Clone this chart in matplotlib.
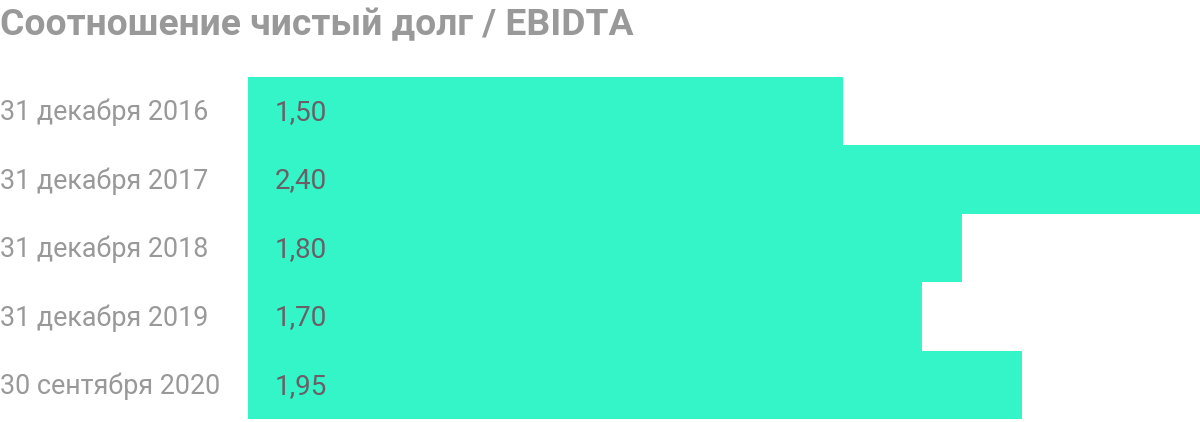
import matplotlib
matplotlib.use("Agg")
import matplotlib.pyplot as plt

categories = ["31 декабря 2016", "31 декабря 2017", "31 декабря 2018",
              "31 декабря 2019", "30 сентября 2020"]
values = [1.50, 2.40, 1.80, 1.70, 1.95]
value_labels = ["1,50", "2,40", "1,80", "1,70", "1,95"]
title = "Соотношение чистый долг / EBIDTA"

plt.rcParams['font.family'] = ['Roboto', 'DejaVu Sans']

W, H = 1200, 422
fig = plt.figure(figsize=(W / 100, H / 100), dpi=100)
ax = fig.add_axes([248 / W, 3 / H, 1 - 248 / W, (419 - 77) / H])

n = len(values)
ypos = list(range(n))
ax.barh(ypos, values, height=1.0, color="#33f5c8", linewidth=0)
ax.set_ylim(n - 0.5, -0.5)
ax.set_xlim(0, max(values))
ax.axis("off")

for y, lab, cat in zip(ypos, value_labels, categories):
    ax.text(27 / (W - 248) * max(values), y + 0.02, lab, va="center", ha="left",
            fontsize=20, color="#6b5e66")
    ax.annotate(cat, xy=(0, y + 0.02), xycoords=("figure fraction", "data"),
                va="center", ha="left", fontsize=19.4, color="#999999")

fig.text(0, 1 - 7 / H, title, ha="left", va="top", fontsize=26.8,
         fontweight="bold", color="#999999")

fig.savefig("out.png", dpi=100)
